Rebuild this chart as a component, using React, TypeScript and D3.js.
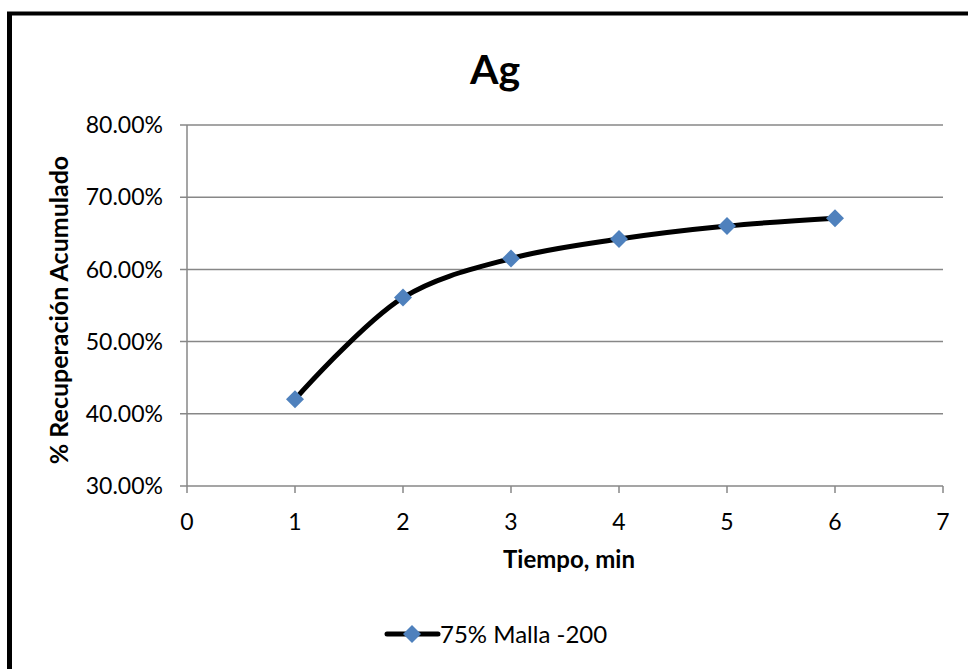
import React from "react";
import * as d3 from "d3";

const times = [1, 2, 3, 4, 5, 6];
const recovery = [0.42, 0.561, 0.615, 0.642, 0.66, 0.671];
const xTicks = [0, 1, 2, 3, 4, 5, 6, 7];
const yTicks = [0.3, 0.4, 0.5, 0.6, 0.7, 0.8];
const title = "Ag";
const xTitle = "Tiempo, min";
const yTitle = "% Recuperación Acumulado";
const seriesName = "75% Malla -200";

const W = 968, H = 669;
const left = 187, right = 943, top = 125, bottom = 486;
const font = "Lato, 'Open Sans', sans-serif";
const gridColor = "#878787";
const markerColor = "#4F81BD";

export default function App() {
  const x = d3.scaleLinear().domain([0, 7]).range([left, right]);
  const y = d3.scaleLinear().domain([0.3, 0.8]).range([bottom, top]);
  const line = d3.line<number>()
    .x((_, i) => x(times[i]))
    .y((d) => y(d))
    .curve(d3.curveCatmullRom.alpha(0.5));
  const diamond = (cx: number, cy: number, r: number) =>
    `M${cx},${cy - r}L${cx + r},${cy}L${cx},${cy + r}L${cx - r},${cy}Z`;
  const fmt = (v: number) => (v * 100).toFixed(2) + "%";

  return (
    <svg width={W} height={H} style={{ position: "absolute", left: 0, top: 0, background: "#fff" }}>
      <rect x={0} y={0} width={W} height={H} fill="#fff" />
      {/* frame */}
      <line x1={9.5} y1={12} x2={9.5} y2={H} stroke="#000" strokeWidth={5} />
      <line x1={7} y1={13.5} x2={W} y2={13.5} stroke="#000" strokeWidth={4} />
      <text x={495} y={84} textAnchor="middle" fontFamily={font} fontWeight="bold" fontSize={41}>{title}</text>
      {/* grid */}
      {yTicks.map((t) => (
        <g key={t}>
          <line x1={left - 7} x2={right} y1={y(t)} y2={y(t)} stroke={gridColor} strokeWidth={1.5} />
          <text x={163} y={y(t)} dy="0.36em" textAnchor="end" fontFamily={font} fontSize={23}>{fmt(t)}</text>
        </g>
      ))}
      <line x1={left} x2={left} y1={top} y2={bottom} stroke={gridColor} strokeWidth={1.5} />
      {xTicks.map((t) => (
        <g key={t}>
          <line x1={x(t)} x2={x(t)} y1={bottom} y2={bottom + 7} stroke={gridColor} strokeWidth={1.5} />
          <text x={x(t)} y={530} textAnchor="middle" fontFamily={font} fontSize={23}>{t}</text>
        </g>
      ))}
      <text x={569} y={568} textAnchor="middle" fontFamily={font} fontWeight="bold" fontSize={24}>{xTitle}</text>
      <text transform={`translate(68,${310}) rotate(-90)`} textAnchor="middle" fontFamily={font} fontWeight="bold" fontSize={25}>{yTitle}</text>
      {/* series */}
      <path d={line(recovery) || ""} fill="none" stroke="#000" strokeWidth={5} strokeLinecap="round" />
      {recovery.map((v, i) => (
        <path key={i} d={diamond(x(times[i]), y(v), 9)} fill={markerColor} />
      ))}
      {/* legend */}
      <line x1={387} x2={438} y1={634} y2={634} stroke="#000" strokeWidth={5} strokeLinecap="round" />
      <path d={diamond(412, 634, 9)} fill={markerColor} />
      <text x={440} y={634} dy="0.36em" fontFamily={font} fontSize={24}>{seriesName}</text>
    </svg>
  );
}
